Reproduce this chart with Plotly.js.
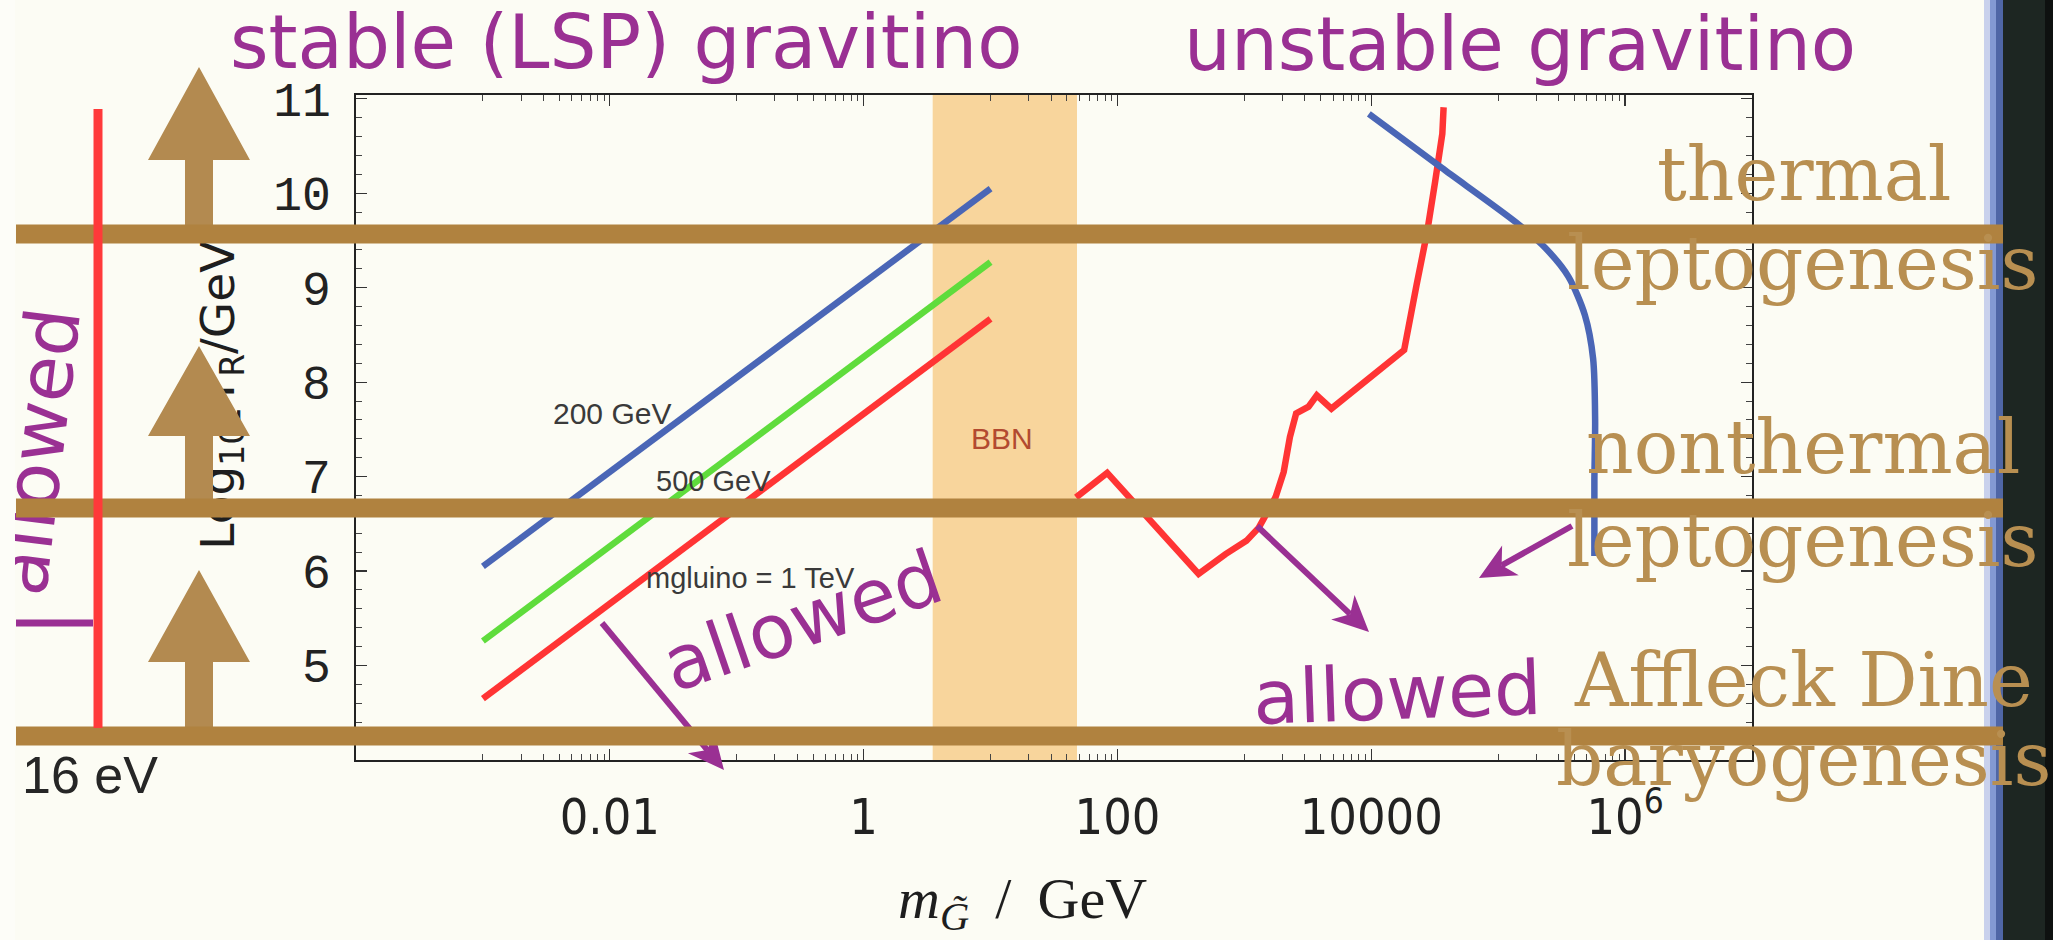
<!DOCTYPE html>
<html>
<head>
<meta charset="utf-8">
<script src="https://cdn.plot.ly/plotly-3.0.1.min.js"></script>
<style>
  html, body { margin: 0; padding: 0; background: #fcfcf4; }
  #chart { width: 2053px; height: 940px; }
</style>
</head>
<body>
<div id="chart"></div>
<script>
// ---- data -------------------------------------------------------------
// reheating-temperature bound for a stable gravitino, three gluino masses
const gluinoLineMass = [0.001, 10];          // m_3/2 in GeV
const tr200GeV  = [6.05, 10.05];              // log10(T_R / GeV)
const tr500GeV  = [5.26, 9.27];
const tr1TeV    = [4.65, 8.67];

// BBN bound for an unstable gravitino
const bbnBoundMass = [47.2, 83, 436, 711, 1038, 1300, 1758, 2042, 2286, 2559,
                      3206, 3724, 4853, 18155, 22750, 27480, 31920, 36300, 37150];
const bbnBoundTR   = [6.78, 7.04, 5.97, 6.18, 6.32, 6.46, 6.78, 7.05, 7.42, 7.67,
                      7.74, 7.86, 7.72, 8.34, 9.03, 9.58, 10.13, 10.63, 10.91];

// heavy-gravitino bound
const heavyBoundMass = [9572, 35730, 138700, 235500, 356500, 482000, 559800, 580700, 572800, 572800];
const heavyBoundTR   = [10.84, 10.27, 9.69, 9.42, 9.12, 8.71, 8.25, 7.60, 6.96, 6.16];

// BBN-excluded mass window (GeV)
const bbnWindow = [3.5, 48];

// axis ticks
const xTickVals = [0.01, 1, 100, 1e4, 1e6];
const xTickText = ['0.01', '1', '100', '10000', '10<sup>6</sup>'];
const yTickVals = [5, 6, 7, 8, 9, 10, 11];
const minorDecades = [1e-3, 1e-1, 1e1, 1e3, 1e5];

// ---- page geometry helpers ---------------------------------------------
const W = 2053, H = 940;
const px = x => x / W;
const py = y => 1 - y / H;
const pathStr = pts => 'M' + pts.map(p => px(p[0]).toFixed(5) + ',' + py(p[1]).toFixed(5)).join('L') + 'Z';

const xMinorTicks = [];
minorDecades.forEach(d => { for (let k = 1; k <= 9; k++) xMinorTicks.push(k * d); });

const PURPLE = '#9a3093';
const BROWN_BAR = '#b0823f';
const BROWN_TEXT = '#b88f51';
const BROWN_ARROW = '#b38a50';

// ---- traces -----------------------------------------------------------
const traces = [
  { x: gluinoLineMass, y: tr200GeV, mode: 'lines', line: { color: '#4a66b6', width: 6.5 } },
  { x: gluinoLineMass, y: tr500GeV, mode: 'lines', line: { color: '#5fdc3c', width: 6.5 } },
  { x: gluinoLineMass, y: tr1TeV,   mode: 'lines', line: { color: '#ff3434', width: 6.5 } },
  { x: bbnBoundMass, y: bbnBoundTR, mode: 'lines', line: { color: '#ff3434', width: 6.5 } },
  { x: heavyBoundMass, y: heavyBoundTR, mode: 'lines',
    line: { color: '#4a66b6', width: 6.5, shape: 'spline', smoothing: 0.8 } }
];

// ---- decorative shapes ----------------------------------------------------
function box(x0, y0, x1, y1, color) {
  return { type: 'rect', xref: 'paper', yref: 'paper', x0: px(x0), x1: px(x1), y0: py(y1), y1: py(y0),
           fillcolor: color, line: { width: 0 }, layer: 'above' };
}
function textShape(cx, cy, text, angle, font) {
  return { type: 'rect', xref: 'paper', yref: 'paper', x0: px(cx - 2), x1: px(cx + 2), y0: py(cy + 2), y1: py(cy - 2),
           fillcolor: 'rgba(0,0,0,0)', line: { width: 0 }, layer: 'above',
           label: { text: text, textangle: angle, textposition: 'middle center', font: font, padding: 0 } };
}
function purpleArrow(sx, sy, tx, ty) {
  const dx = tx - sx, dy = ty - sy, len = Math.hypot(dx, dy);
  const ux = dx / len, uy = dy / len, nx = -uy, ny = ux;
  const L = 36, hw = 17;
  const bx = tx - ux * L, by = ty - uy * L;
  const kx = bx + ux * L * 0.28, ky = by + uy * L * 0.28;
  return [
    { type: 'line', xref: 'paper', yref: 'paper', x0: px(sx), y0: py(sy), x1: px(kx), y1: py(ky),
      line: { color: PURPLE, width: 6 }, layer: 'above' },
    { type: 'path', xref: 'paper', yref: 'paper', layer: 'above', fillcolor: PURPLE, line: { width: 0 },
      path: pathStr([[tx, ty], [bx + nx * hw, by + ny * hw], [kx, ky], [bx - nx * hw, by - ny * hw]]) }
  ];
}
function upArrow(cx, tipY, baseY, bottomY) {
  const hw = 51, sw = 14;
  return { type: 'path', xref: 'paper', yref: 'paper', layer: 'above', fillcolor: BROWN_ARROW, line: { width: 0 },
           path: pathStr([[cx, tipY], [cx + hw, baseY], [cx + sw, baseY], [cx + sw, bottomY],
                          [cx - sw, bottomY], [cx - sw, baseY], [cx - hw, baseY]]) };
}

const shapes = [
  // dark frame on the right edge
  box(1984, 0, 1990, 940, '#c9d1ec'),
  box(1990, 0, 1996, 940, '#8399d3'),
  box(1996, 0, 2003, 940, '#4f66a6'),
  box(2003, 0, 2053, 940, '#1d2622'),
  box(2045, 0, 2053, 940, '#0e1110'),
  // BBN window
  { type: 'rect', xref: 'x', yref: 'paper', x0: bbnWindow[0], x1: bbnWindow[1],
    y0: py(760), y1: py(95), fillcolor: '#f8d59c', line: { width: 0 }, layer: 'below' },
  // vertical axis title
  textShape(218, 386, 'Log<sub>10</sub>[T<sub>R</sub>/GeV]', -90,
            { family: 'DejaVu Sans, sans-serif', size: 47, color: '#1e1e1e' }),
  // rotated "allowed" on the left, running off the slide edge
  textShape(32, 451, 'allowed', -83, { family: 'DejaVu Sans, sans-serif', size: 75, color: PURPLE }),
  box(0, 0, 15, 940, '#fdfdf8'),
  { type: 'line', xref: 'paper', yref: 'paper', x0: px(16), x1: px(93), y0: py(623), y1: py(623),
    line: { color: PURPLE, width: 7 }, layer: 'above' },
  ...purpleArrow(1257, 526, 1369, 632),
  ...purpleArrow(1572, 526, 1479, 578),
  ...purpleArrow(602, 623, 724, 770),
  upArrow(199, 67, 160, 234),
  upArrow(199, 346, 436, 508),
  upArrow(199, 570, 662, 736),
  // horizontal bands
  box(16, 224.5, 2003, 243.5, BROWN_BAR),
  box(16, 498.5, 2003, 517.5, BROWN_BAR),
  box(16, 726.5, 2003, 745.5, BROWN_BAR),
  // red vertical line on the left
  { type: 'line', xref: 'paper', yref: 'paper', x0: px(98), x1: px(98), y0: py(109), y1: py(728),
    line: { color: '#ff3a3a', width: 9 }, layer: 'above' }
];

// ---- text --------------------------------------------------------------
function note(x, y, text, size, color, family, angle) {
  return { xref: 'paper', yref: 'paper', x: px(x), y: py(y), text: text, showarrow: false,
           xanchor: 'center', yanchor: 'middle', textangle: angle || 0,
           font: { family: family, size: size, color: color } };
}
function dataNote(logx, y, text, size, color) {
  return { xref: 'x', yref: 'y', x: logx, y: y, text: text, showarrow: false,
           xanchor: 'center', yanchor: 'middle',
           font: { family: 'Liberation Sans, Arial, sans-serif', size: size, color: color } };
}
const HAND = 'DejaVu Sans, sans-serif';
const SLAB = 'DejaVu Serif, serif';

const annotations = [
  note(626, 42, 'stable (LSP) gravitino', 74, PURPLE, HAND),
  note(1520, 44, 'unstable gravitino', 74, PURPLE, HAND),
  note(802, 621, 'allowed', 75, PURPLE, HAND, -19),
  note(1397, 693, 'allowed', 75, PURPLE, HAND, -2),
  note(1804, 174, 'thermal', 74, BROWN_TEXT, SLAB),
  note(1802, 263, 'leptogenesis', 74, BROWN_TEXT, SLAB),
  note(1803, 447, 'nonthermal', 74, BROWN_TEXT, SLAB),
  note(1802, 540, 'leptogenesis', 74, BROWN_TEXT, SLAB),
  note(1803, 680, 'Affleck Dine', 74, BROWN_TEXT, SLAB),
  note(1803, 759, 'baryogenesis', 74, BROWN_TEXT, SLAB),
  note(90, 775, '16 eV', 52, '#262626', 'Liberation Sans, Arial, sans-serif'),
  note(1022, 902, '<i>m</i><sub><i>G\u0303</i></sub> \u2009/\u2009 GeV', 58, '#1e1e1e', 'Liberation Serif, serif'),
  dataNote(-1.983, 7.67, '200 GeV', 30, '#3a3a3a'),
  dataNote(-1.187, 6.95, '500 GeV', 29, '#3a3a3a'),
  dataNote(-0.895, 5.93, 'mgluino = 1 TeV', 29, '#3a3a3a'),
  dataNote(1.09, 7.40, 'BBN', 30, '#b24a30')
];

// ---- layout --------------------------------------------------------------
const layout = {
  width: W, height: H,
  margin: { l: 0, r: 0, t: 0, b: 0 },
  paper_bgcolor: '#fcfcf4', plot_bgcolor: '#fcfcf4',
  showlegend: false,
  xaxis: {
    type: 'log', range: [-4, 7], domain: [px(356), px(1752)],
    tickmode: 'array', tickvals: xTickVals, ticktext: xTickText,
    ticks: 'inside', ticklen: 11, tickwidth: 1.3, tickcolor: '#333',
    showline: true, linecolor: '#222', linewidth: 1.6, mirror: 'allticks',
    showgrid: false, zeroline: false, ticklabelstandoff: 12,
    tickfont: { family: 'Liberation Sans Narrow, DejaVu Sans Condensed, Liberation Mono, monospace', size: 50, color: '#222' },
    minor: { tickmode: 'array', tickvals: xMinorTicks, ticks: 'inside', ticklen: 6, tickwidth: 1, tickcolor: '#444', showgrid: false }
  },
  yaxis: {
    range: [4, 11.04], domain: [py(760), py(95)],
    tickmode: 'array', tickvals: yTickVals,
    ticks: 'inside', ticklen: 11, tickwidth: 1.3, tickcolor: '#333',
    showline: true, linecolor: '#222', linewidth: 1.6, mirror: 'allticks',
    showgrid: false, zeroline: false, ticklabelstandoff: 14,
    tickfont: { family: 'Liberation Mono, monospace', size: 48, color: '#222' },
    minor: { tickmode: 'linear', tick0: 4, dtick: 0.2, ticks: 'inside', ticklen: 6, tickwidth: 1, tickcolor: '#444', showgrid: false }
  },
  shapes: shapes,
  annotations: annotations
};

Plotly.newPlot('chart', traces, layout, { displayModeBar: false, staticPlot: true });
</script>
</body>
</html>
